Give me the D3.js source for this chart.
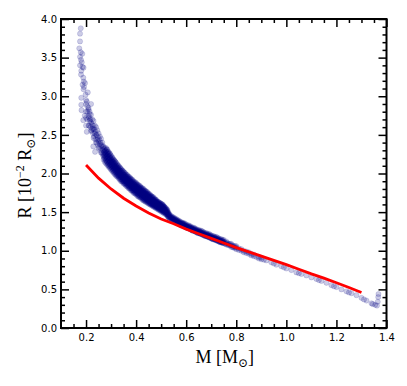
<!DOCTYPE html>
<html>
<head>
<meta charset="utf-8">
<script src="https://cdn.jsdelivr.net/npm/d3@7"></script>
<style>
  html, body { margin: 0; padding: 0; background: #fff; }
  .axlabel { font-family: "Liberation Serif", "DejaVu Serif", serif; font-size: 18px; fill: #000; }
</style>
</head>
<body>
<script>
"use strict";

// scattered stars, [mass, radius]
const scatterStars = [
  [0.179, 3.88], [0.176, 3.81], [0.176, 3.71], [0.173, 3.62], [0.185, 3.55],
  [0.179, 3.57], [0.176, 3.51], [0.180, 3.47], [0.183, 3.44], [0.176, 3.40],
  [0.186, 3.38], [0.190, 3.37], [0.181, 3.33], [0.180, 3.28], [0.189, 3.24],
  [0.191, 3.19], [0.186, 3.15], [0.196, 3.17], [0.192, 3.12], [0.190, 3.09],
  [0.207, 3.05], [0.198, 3.02], [0.181, 2.98], [0.200, 2.95], [0.203, 2.93],
  [0.220, 2.90], [0.181, 2.89], [0.205, 2.87], [0.210, 2.85], [0.182, 2.82],
  [0.214, 2.80], [0.195, 2.75], [0.189, 2.69], [0.200, 2.62], [0.203, 2.54],
  [0.229, 2.35], [0.236, 2.28],
  [1.365, 0.34], [1.367, 0.40], [1.368, 0.44]
];

// main sequence of stars: [mass, [radii at that mass]]
const bandRows = [
  [0.200, [2.72, 2.80, 2.90]], [0.210, [2.62, 2.74, 2.83]], [0.215, [2.68, 2.77]],
  [0.220, [2.55, 2.66, 2.76]], [0.225, [2.58, 2.70]], [0.230, [2.46, 2.58, 2.68]],
  [0.235, [2.52, 2.62]], [0.240, [2.40, 2.50, 2.60]], [0.245, [2.44, 2.56]],
  [0.250, [2.33, 2.42, 2.52]], [0.255, [2.38, 2.48]], [0.260, [2.27, 2.36, 2.45]],
  [0.265, [2.31, 2.40]],
  [0.270, [2.18, 2.22, 2.26, 2.30, 2.35]], [0.275, [2.15, 2.20, 2.24, 2.28, 2.33]],
  [0.280, [2.13, 2.17, 2.21, 2.25, 2.29, 2.33]], [0.285, [2.11, 2.15, 2.19, 2.23, 2.27, 2.31]],
  [0.290, [2.09, 2.13, 2.17, 2.21, 2.25, 2.28]], [0.295, [2.07, 2.11, 2.15, 2.19, 2.22, 2.26]],
  [0.300, [2.05, 2.09, 2.12, 2.16, 2.19, 2.23]], [0.305, [2.03, 2.07, 2.10, 2.14, 2.17, 2.21]],
  [0.310, [2.01, 2.05, 2.08, 2.11, 2.15, 2.18]], [0.315, [1.99, 2.03, 2.06, 2.09, 2.13, 2.16]],
  [0.320, [1.97, 2.01, 2.04, 2.07, 2.10, 2.14]], [0.325, [1.96, 1.99, 2.02, 2.05, 2.08, 2.12]],
  [0.330, [1.94, 1.97, 2.00, 2.03, 2.06, 2.10]], [0.335, [1.92, 1.95, 1.98, 2.01, 2.04, 2.08]],
  [0.340, [1.90, 1.93, 1.96, 1.99, 2.03, 2.06]], [0.345, [1.89, 1.92, 1.95, 1.98, 2.01, 2.04]],
  [0.350, [1.87, 1.90, 1.93, 1.96, 1.99, 2.02]], [0.355, [1.86, 1.89, 1.92, 1.95, 1.98, 2.01]],
  [0.360, [1.84, 1.87, 1.90, 1.93, 1.96, 1.99]], [0.365, [1.83, 1.86, 1.89, 1.92, 1.95, 1.98]],
  [0.370, [1.81, 1.84, 1.87, 1.90, 1.93, 1.96]], [0.375, [1.80, 1.83, 1.86, 1.89, 1.92, 1.95]],
  [0.380, [1.78, 1.81, 1.84, 1.87, 1.90, 1.93]], [0.385, [1.77, 1.80, 1.83, 1.86, 1.89, 1.92]],
  [0.390, [1.75, 1.78, 1.81, 1.84, 1.87, 1.90]], [0.395, [1.74, 1.77, 1.80, 1.83, 1.86, 1.89]],
  [0.400, [1.73, 1.76, 1.79, 1.82, 1.85, 1.88]], [0.405, [1.71, 1.74, 1.77, 1.80, 1.83, 1.86]],
  [0.410, [1.70, 1.73, 1.76, 1.79, 1.82, 1.85]], [0.415, [1.69, 1.72, 1.75, 1.78, 1.81, 1.84]],
  [0.420, [1.68, 1.71, 1.74, 1.77, 1.80, 1.82]], [0.425, [1.66, 1.69, 1.72, 1.75, 1.78, 1.81]],
  [0.430, [1.65, 1.68, 1.71, 1.74, 1.77, 1.80]], [0.435, [1.64, 1.67, 1.70, 1.73, 1.76, 1.78]],
  [0.440, [1.63, 1.66, 1.69, 1.72, 1.74, 1.77]], [0.445, [1.62, 1.65, 1.68, 1.70, 1.73, 1.76]],
  [0.450, [1.61, 1.64, 1.66, 1.69, 1.72, 1.74]], [0.455, [1.60, 1.62, 1.65, 1.68, 1.70, 1.73]],
  [0.460, [1.59, 1.61, 1.64, 1.66, 1.69, 1.71]], [0.465, [1.58, 1.60, 1.63, 1.65, 1.68, 1.70]],
  [0.470, [1.57, 1.59, 1.62, 1.64, 1.66, 1.69]], [0.475, [1.56, 1.58, 1.60, 1.63, 1.65, 1.67]],
  [0.480, [1.55, 1.57, 1.59, 1.62, 1.64, 1.66]], [0.485, [1.54, 1.56, 1.58, 1.60, 1.62, 1.64]],
  [0.490, [1.53, 1.55, 1.57, 1.59, 1.61, 1.63]], [0.495, [1.52, 1.54, 1.56, 1.58, 1.60, 1.62]],
  [0.500, [1.51, 1.53, 1.55, 1.57, 1.59, 1.61]], [0.505, [1.50, 1.52, 1.54, 1.56, 1.58, 1.60]],
  [0.510, [1.49, 1.51, 1.53, 1.55, 1.57, 1.58]], [0.515, [1.48, 1.50, 1.52, 1.54, 1.56]],
  [0.520, [1.47, 1.49, 1.51, 1.53, 1.55]], [0.525, [1.45, 1.47, 1.49, 1.51, 1.53]],
  [0.530, [1.43, 1.45, 1.47, 1.49]], [0.535, [1.42, 1.44, 1.46]],
  [0.540, [1.41, 1.43, 1.45]], [0.545, [1.40, 1.42, 1.44]],
  [0.550, [1.39, 1.41, 1.43]], [0.555, [1.38, 1.40, 1.42]],
  [0.560, [1.37, 1.39, 1.41]], [0.565, [1.36, 1.38, 1.40]],
  [0.570, [1.35, 1.37, 1.39]], [0.575, [1.34, 1.36, 1.38]],
  [0.580, [1.33, 1.35, 1.37]], [0.585, [1.33, 1.35, 1.36]],
  [0.590, [1.32, 1.34, 1.36]], [0.595, [1.31, 1.33, 1.35]],
  [0.600, [1.30, 1.32, 1.34]], [0.605, [1.30, 1.31, 1.33]],
  [0.610, [1.29, 1.31, 1.33]], [0.615, [1.28, 1.30, 1.32]],
  [0.620, [1.27, 1.29, 1.31]], [0.625, [1.26, 1.28, 1.30]],
  [0.630, [1.26, 1.28, 1.30]], [0.635, [1.25, 1.27, 1.29]],
  [0.640, [1.24, 1.26, 1.28]], [0.645, [1.23, 1.25, 1.27]],
  [0.650, [1.23, 1.25, 1.27]], [0.655, [1.22, 1.24, 1.26]],
  [0.660, [1.22, 1.24, 1.26]], [0.665, [1.21, 1.23, 1.25]],
  [0.670, [1.20, 1.22, 1.24]], [0.675, [1.19, 1.21, 1.23]],
  [0.680, [1.19, 1.21, 1.23]], [0.685, [1.18, 1.20, 1.22]],
  [0.690, [1.18, 1.20, 1.22]], [0.695, [1.17, 1.19, 1.21]],
  [0.700, [1.16, 1.18, 1.20]], [0.705, [1.15, 1.17, 1.19]],
  [0.710, [1.15, 1.17, 1.19]], [0.715, [1.14, 1.16, 1.18]],
  [0.720, [1.14, 1.16, 1.18]], [0.725, [1.13, 1.15, 1.17]],
  [0.730, [1.12, 1.14, 1.16]], [0.735, [1.11, 1.13, 1.15]],
  [0.740, [1.11, 1.13, 1.15]], [0.745, [1.10, 1.12, 1.14]],
  [0.750, [1.10, 1.12, 1.14]],
  [0.760, [1.08, 1.10, 1.12]], [0.770, [1.07, 1.09]],
  [0.780, [1.05, 1.07, 1.09]], [0.790, [1.04, 1.06]],
  [0.800, [1.02, 1.04, 1.06]], [0.810, [1.01, 1.03]],
  [0.820, [1.00, 1.02]], [0.830, [0.98, 1.00]], [0.840, [0.97, 0.99]],
  [0.850, [0.96, 0.98]], [0.860, [0.94, 0.96]], [0.870, [0.93, 0.95]],
  [0.880, [0.92]], [0.890, [0.90, 0.92]], [0.900, [0.89, 0.91]],
  [0.910, [0.885]], [0.920, [0.875]], [0.940, [0.85]], [0.950, [0.835]],
  [0.960, [0.82]], [0.980, [0.80]], [0.990, [0.785]], [1.000, [0.77]],
  [1.020, [0.75]], [1.040, [0.72]], [1.050, [0.71]], [1.060, [0.70]],
  [1.080, [0.68]], [1.100, [0.655]], [1.120, [0.635]], [1.130, [0.62]],
  [1.140, [0.61]], [1.160, [0.585]], [1.180, [0.555]], [1.190, [0.54]],
  [1.200, [0.53]], [1.220, [0.50]], [1.240, [0.475]], [1.250, [0.46]],
  [1.260, [0.45]], [1.280, [0.425]], [1.300, [0.39]], [1.310, [0.37]],
  [1.320, [0.355]], [1.340, [0.32]], [1.345, [0.31]], [1.355, [0.30]],
  [1.362, [0.29]]
];

// extra stars where the sequence is crowded: [mass, [radii]]
const denseRows = [
  [0.2050, [2.70, 2.80]], [0.2125, [2.62, 2.72]], [0.2175, [2.60, 2.70]],
  [0.2225, [2.56, 2.64]], [0.2275, [2.52, 2.62]], [0.2325, [2.48, 2.57]],
  [0.2375, [2.44, 2.54]], [0.2425, [2.40, 2.50]], [0.2475, [2.37, 2.47]],
  [0.2525, [2.34, 2.44]], [0.2575, [2.30, 2.40]], [0.2625, [2.27, 2.37]],
  [0.2675, [2.24, 2.34]],
  [0.2725, [2.20, 2.24, 2.28, 2.32]], [0.2775, [2.17, 2.22, 2.26, 2.30]],
  [0.2825, [2.15, 2.19, 2.23, 2.27, 2.31]], [0.2875, [2.12, 2.16, 2.20, 2.24, 2.28]],
  [0.2925, [2.10, 2.14, 2.18, 2.22, 2.26]], [0.2975, [2.08, 2.12, 2.16, 2.20, 2.24]],
  [0.3025, [2.06, 2.10, 2.14, 2.17, 2.21]], [0.3075, [2.04, 2.08, 2.12, 2.15, 2.19]],
  [0.3125, [2.02, 2.06, 2.10, 2.13, 2.17]], [0.3175, [2.00, 2.04, 2.08, 2.11, 2.15]],
  [0.3225, [1.98, 2.02, 2.06, 2.09, 2.12]], [0.3275, [1.97, 2.00, 2.04, 2.07, 2.10]],
  [0.3325, [1.95, 1.98, 2.02, 2.05, 2.08]], [0.3375, [1.93, 1.96, 2.00, 2.03, 2.06]],
  [0.3425, [1.91, 1.95, 1.98, 2.01, 2.04]], [0.3475, [1.90, 1.93, 1.96, 2.00, 2.03]],
  [0.3525, [1.88, 1.91, 1.95, 1.98, 2.01]], [0.3575, [1.87, 1.90, 1.93, 1.96, 1.99]],
  [0.3625, [1.85, 1.88, 1.91, 1.94, 1.97]], [0.3675, [1.84, 1.87, 1.90, 1.93, 1.96]],
  [0.3725, [1.82, 1.85, 1.88, 1.91, 1.94]], [0.3775, [1.81, 1.84, 1.87, 1.90, 1.93]],
  [0.3825, [1.79, 1.82, 1.85, 1.88, 1.91]], [0.3875, [1.78, 1.81, 1.84, 1.87, 1.90]],
  [0.3925, [1.76, 1.79, 1.82, 1.85, 1.88]], [0.3975, [1.75, 1.78, 1.81, 1.84, 1.87]],
  [0.4025, [1.74, 1.77, 1.80, 1.83, 1.86]], [0.4075, [1.72, 1.75, 1.78, 1.81, 1.84]],
  [0.4125, [1.71, 1.74, 1.77, 1.80, 1.83]], [0.4175, [1.70, 1.73, 1.76, 1.79, 1.82]],
  [0.4225, [1.69, 1.72, 1.75, 1.78, 1.80]], [0.4275, [1.67, 1.70, 1.73, 1.76, 1.79]],
  [0.4325, [1.66, 1.69, 1.72, 1.75, 1.78]], [0.4375, [1.65, 1.68, 1.71, 1.74, 1.77]],
  [0.4425, [1.64, 1.67, 1.70, 1.73, 1.75]], [0.4475, [1.63, 1.66, 1.68, 1.71, 1.74]],
  [0.4525, [1.62, 1.64, 1.67, 1.70, 1.72]], [0.4575, [1.61, 1.63, 1.66, 1.68, 1.71]],
  [0.4625, [1.60, 1.62, 1.65, 1.67, 1.70]], [0.4675, [1.59, 1.61, 1.64, 1.66, 1.68]],
  [0.4725, [1.58, 1.60, 1.62, 1.65, 1.67]], [0.4775, [1.57, 1.59, 1.61, 1.64, 1.66]],
  [0.4825, [1.56, 1.58, 1.60, 1.62, 1.64]], [0.4875, [1.55, 1.57, 1.59, 1.61, 1.63]],
  [0.4925, [1.54, 1.56, 1.58, 1.60, 1.62]], [0.4975, [1.53, 1.55, 1.57, 1.59, 1.61]],
  [0.5025, [1.52, 1.54, 1.56, 1.58, 1.60]], [0.5075, [1.51, 1.53, 1.55, 1.57, 1.59]],
  [0.5125, [1.50, 1.52, 1.54, 1.56, 1.57]], [0.5175, [1.49, 1.51, 1.53, 1.55]],
  [0.5225, [1.47, 1.49, 1.51, 1.53]], [0.5275, [1.44, 1.46, 1.48, 1.50]],
  [0.5325, [1.43, 1.45, 1.47]], [0.5375, [1.42, 1.44]], [0.5425, [1.41, 1.43]],
  [0.5475, [1.40, 1.42]], [0.5525, [1.39, 1.41]], [0.5575, [1.38, 1.40]],
  [0.5625, [1.37, 1.39]], [0.5675, [1.36, 1.38]], [0.5725, [1.35, 1.37]],
  [0.5775, [1.34, 1.36]], [0.5825, [1.33, 1.35]], [0.5875, [1.33, 1.35]],
  [0.5925, [1.32, 1.34]], [0.5975, [1.31, 1.33]], [0.6025, [1.30, 1.32]],
  [0.6075, [1.29, 1.31]], [0.6125, [1.29, 1.31]], [0.6175, [1.28, 1.30]],
  [0.6225, [1.27, 1.29]], [0.6275, [1.26, 1.28]], [0.6325, [1.26, 1.28]],
  [0.6375, [1.25, 1.27]], [0.6425, [1.24, 1.26]], [0.6475, [1.23, 1.25]],
  [0.6525, [1.23, 1.25]], [0.6575, [1.22, 1.24]], [0.6625, [1.21, 1.23]],
  [0.6675, [1.21, 1.23]], [0.6725, [1.20, 1.22]], [0.6775, [1.19, 1.21]],
  [0.6825, [1.19, 1.21]], [0.6875, [1.18, 1.20]], [0.6925, [1.17, 1.19]],
  [0.6975, [1.17, 1.19]], [0.7025, [1.16, 1.18]], [0.7075, [1.15, 1.17]],
  [0.7125, [1.15, 1.17]], [0.7175, [1.14, 1.16]], [0.7225, [1.13, 1.15]],
  [0.7275, [1.13, 1.15]], [0.7325, [1.12, 1.14]], [0.7375, [1.11, 1.13]],
  [0.7425, [1.11, 1.13]], [0.7475, [1.10, 1.12]], [0.7550, [1.09, 1.11]],
  [0.7650, [1.08, 1.10]], [0.7750, [1.07, 1.09]], [0.7850, [1.05, 1.07]],
  [0.7950, [1.04, 1.06]]
];

// model curve (red)
const modelM = [0.20, 0.25, 0.30, 0.35, 0.40, 0.45, 0.50, 0.55, 0.60, 0.65, 0.70,
                0.75, 0.80, 0.85, 0.90, 0.95, 1.00, 1.05, 1.10, 1.15, 1.20, 1.25, 1.30];
const modelR = [2.11, 1.94, 1.80, 1.68, 1.58, 1.49, 1.41, 1.35, 1.28, 1.22, 1.16,
                1.10, 1.04, 0.985, 0.93, 0.875, 0.82, 0.76, 0.70, 0.645, 0.585, 0.525, 0.46];

const xTicks = [0.2, 0.4, 0.6, 0.8, 1.0, 1.2, 1.4];
const yTicks = [0.0, 0.5, 1.0, 1.5, 2.0, 2.5, 3.0, 3.5, 4.0];

const W = 407, H = 386;
const margin = {top: 19, right: 20.5, bottom: 58, left: 61};
const width = W - margin.left - margin.right;
const height = H - margin.top - margin.bottom;

const svg = d3.select("body").append("svg")
  .attr("width", W).attr("height", H);
const g = svg.append("g").attr("transform", `translate(${margin.left},${margin.top})`);

const x = d3.scaleLinear().domain([0.1, 1.4]).range([0, width]);
const y = d3.scaleLinear().domain([0, 4.0]).range([height, 0]);

// points
const toPts = rows => rows.flatMap(([m, rs]) => rs.map(r => [m, r]));
const points = scatterStars.concat(toPts(bandRows), toPts(denseRows));
g.append("g")
  .selectAll("circle")
  .data(points)
  .enter()
  .append("circle")
  .attr("cx", d => x(d[0]))
  .attr("cy", d => y(d[1]))
  .attr("r", 2.6)
  .attr("fill", "#000080")
  .attr("fill-opacity", 0.2)
  .attr("stroke", "#000080")
  .attr("stroke-opacity", 0.22)
  .attr("stroke-width", 0.6);

// model line
const line = d3.line().x(d => x(d[0])).y(d => y(d[1]));
g.append("path")
  .datum(modelM.map((m, i) => [m, modelR[i]]))
  .attr("d", line)
  .attr("fill", "none")
  .attr("stroke", "#ff0000")
  .attr("stroke-width", 2.8);

// axes: inward ticks on all four sides
const xMinor = d3.range(0.15, 1.4, 0.05).filter(v => Math.abs(Math.round(v * 5) - v * 5) > 1e-6);
const yMinor = d3.range(0.1, 4.0, 0.1).filter(v => Math.abs(Math.round(v * 2) - v * 2) > 1e-6);

const styleAxis = sel => {
  sel.select(".domain").remove();
  sel.selectAll(".tick line").attr("stroke", "#000").attr("stroke-width", 1.5);
};

g.append("g").attr("transform", `translate(0,${height})`)
  .call(d3.axisBottom(x).tickValues(xTicks).tickSize(-8).tickPadding(6).tickFormat(d3.format(".1f")))
  .call(styleAxis);
g.append("g").attr("transform", `translate(0,${height})`)
  .call(d3.axisBottom(x).tickValues(xMinor).tickSize(-4).tickFormat(""))
  .call(styleAxis);
g.append("g")
  .call(d3.axisTop(x).tickValues(xTicks).tickSize(-8).tickFormat(""))
  .call(styleAxis);
g.append("g")
  .call(d3.axisTop(x).tickValues(xMinor).tickSize(-4).tickFormat(""))
  .call(styleAxis);

g.append("g")
  .call(d3.axisLeft(y).tickValues(yTicks).tickSize(-8).tickPadding(4).tickFormat(d3.format(".1f")))
  .call(styleAxis);
g.append("g")
  .call(d3.axisLeft(y).tickValues(yMinor).tickSize(-4).tickFormat(""))
  .call(styleAxis);
g.append("g").attr("transform", `translate(${width},0)`)
  .call(d3.axisRight(y).tickValues(yTicks).tickSize(-8).tickFormat(""))
  .call(styleAxis);
g.append("g").attr("transform", `translate(${width},0)`)
  .call(d3.axisRight(y).tickValues(yMinor).tickSize(-4).tickFormat(""))
  .call(styleAxis);

g.selectAll(".tick text").attr("fill", "#000").style("font-family", "DejaVu Sans").style("font-size", "10px");

// frame
g.append("rect")
  .attr("width", width).attr("height", height)
  .attr("fill", "none").attr("stroke", "#000").attr("stroke-width", 2);

// axis labels
const xl = svg.append("text").attr("class", "axlabel")
  .attr("x", margin.left + width / 2 + 1).attr("y", 363)
  .attr("text-anchor", "middle");
xl.append("tspan").text("M [M");
xl.append("tspan").attr("dy", 4).attr("font-size", "12px").text("\u2299");
xl.append("tspan").attr("dy", -4).text("]");

const yl = svg.append("text").attr("class", "axlabel")
  .attr("transform", `translate(31,${margin.top + height / 2 + 2}) rotate(-90)`)
  .attr("text-anchor", "middle");
yl.append("tspan").text("R [10");
yl.append("tspan").attr("dy", -7).attr("font-size", "12px").text("\u22122");
yl.append("tspan").attr("dy", 7).text(" R");
yl.append("tspan").attr("dy", 4).attr("font-size", "12px").text("\u2299");
yl.append("tspan").attr("dy", -4).text("]");
</script>
</body>
</html>
